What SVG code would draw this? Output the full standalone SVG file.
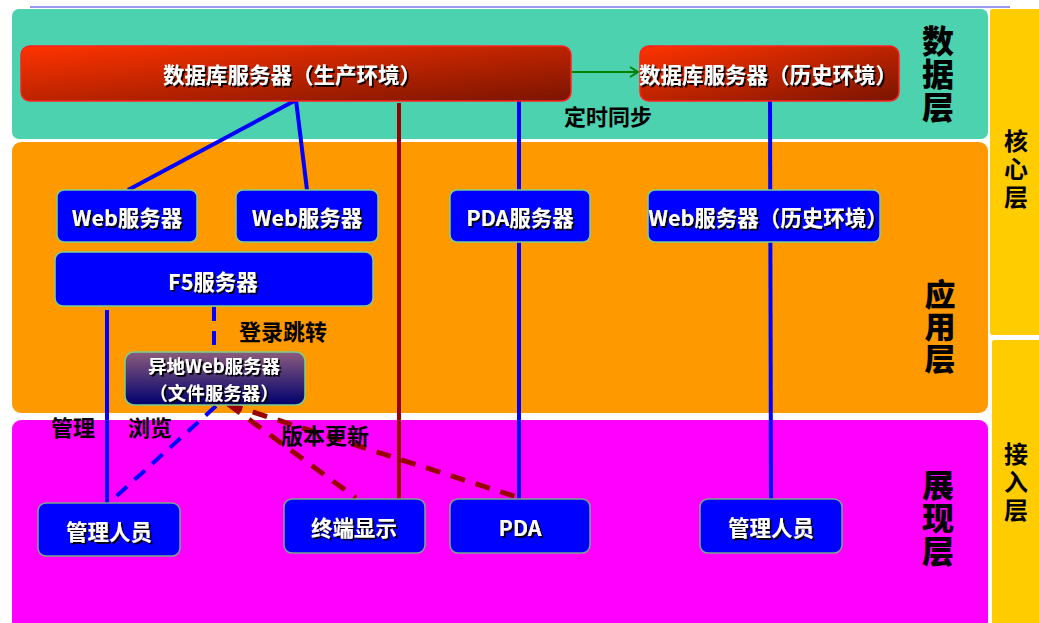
<svg xmlns="http://www.w3.org/2000/svg" width="1039" height="623" viewBox="0 0 1039 623">
<style>
.lbl{font-family:"Noto Sans CJK SC","Liberation Sans",sans-serif;font-weight:bold;fill:#fff;text-anchor:middle;dominant-baseline:central;filter:url(#sh);font-size:21.5px}
.cap{font-family:"Noto Sans CJK SC","Liberation Sans",sans-serif;font-weight:bold;fill:#000;text-anchor:middle;dominant-baseline:central;font-size:22px}
.layer{font-family:"Noto Sans CJK SC",sans-serif;font-weight:900;fill:#000;text-anchor:middle;writing-mode:tb}
.side{font-family:"Noto Sans CJK SC",sans-serif;font-weight:bold;fill:#000;text-anchor:middle;font-size:24px;writing-mode:tb;letter-spacing:4px}
.box{fill:#0000FF;stroke:#7ccf8c;stroke-width:1.5}
.boxb{fill:#0000FF;stroke:#7aa88a;stroke-width:1.5}
.db{fill:url(#gDb);stroke:#ff2020;stroke-width:1.5}
.blue{stroke:#0000FF;stroke-width:4;fill:none}
.red{stroke:#990000;stroke-width:4;fill:none}
.bdash{stroke:#0000FF;stroke-width:4;fill:none;stroke-dasharray:14 10}
.rdash{stroke:#990000;stroke-width:5;fill:none;stroke-dasharray:15 11}
</style>
<defs>
<linearGradient id="gDb" x1="0" y1="0" x2="1" y2="1">
<stop offset="0" stop-color="#ff3300"/>
<stop offset="1" stop-color="#7a1400"/>
</linearGradient>
<linearGradient id="gRemote" x1="0" y1="0" x2="0" y2="1">
<stop offset="0" stop-color="#8a5c7c"/>
<stop offset="1" stop-color="#00006e"/>
</linearGradient>
<filter id="sh" x="-10%" y="-30%" width="120%" height="160%">
<feDropShadow dx="1.8" dy="1.8" stdDeviation="0.4" flood-color="#000" flood-opacity="1"/>
</filter>
<marker id="arr" markerWidth="12" markerHeight="12" refX="10" refY="6" orient="auto" markerUnits="userSpaceOnUse">
<path d="M2,1 L10,6 L2,11" fill="none" stroke="#008000" stroke-width="2"/>
</marker>
</defs>

<g id="layers">
<line x1="30" y1="7" x2="1010" y2="7" stroke="#9a9af0" stroke-width="2"/>
<rect id="data-layer" x="12" y="9" width="976" height="130" rx="7" fill="#4dd2b0"/>
<rect id="app-layer" x="12" y="142" width="976" height="271" rx="9" fill="#ff9900"/>
<rect id="view-layer" x="12" y="420" width="976" height="210" rx="9" fill="#ff00ff"/>
<rect id="core-layer" x="990" y="9" width="52" height="326" rx="3" fill="#ffcc00"/>
<rect id="access-layer" x="992" y="340" width="50" height="290" rx="3" fill="#ffcc00"/>
<text class="layer" x="938" y="74" font-size="32" letter-spacing="1">数据层</text>
<text class="layer" x="940" y="327" font-size="31" letter-spacing="1">应用层</text>
<text class="layer" x="938" y="518" font-size="32" letter-spacing="1">展现层</text>
<text class="side" x="1016" y="171">核心层</text>
<text class="side" x="1016" y="484">接入层</text>
</g>

<g id="connectors">
<line class="blue" x1="296" y1="100" x2="128" y2="190"/>
<line class="blue" x1="296" y1="100" x2="307" y2="190"/>
<line class="red" x1="399" y1="103" x2="399" y2="499"/>
<line class="blue" x1="519" y1="101" x2="519" y2="499"/>
<line class="blue" x1="770" y1="101" x2="771" y2="499"/>
<line class="blue" x1="107" y1="310" x2="107" y2="503"/>
<line class="bdash" x1="214" y1="307" x2="214" y2="352"/>
<line class="bdash" x1="216" y1="406" x2="110" y2="502"/>
<line class="rdash" x1="228" y1="404" x2="356" y2="498"/>
<line class="rdash" x1="228" y1="404" x2="520" y2="498"/>
<line x1="572" y1="72" x2="638" y2="72" stroke="#008000" stroke-width="2" marker-end="url(#arr)"/>
<text class="cap" x="608" y="115">定时同步</text>
<text class="cap" x="283" y="330">登录跳转</text>
<text class="cap" x="73" y="426">管理</text>
<text class="cap" x="150" y="426">浏览</text>
<text class="cap" x="325" y="434">版本更新</text>
</g>

<g id="db-prod">
<rect class="db" x="21" y="46" width="550" height="55" rx="9"/>
<text class="lbl" x="292" y="73">数据库服务器（生产环境）</text>
</g>
<g id="db-hist">
<rect class="db" x="640" y="46" width="259" height="55" rx="9"/>
<text class="lbl" x="768" y="73">数据库服务器（历史环境）</text>
</g>
<g id="web1">
<rect class="box" x="57" y="190" width="140" height="52" rx="7"/>
<text class="lbl" x="127" y="216">Web服务器</text>
</g>
<g id="web2">
<rect class="box" x="236" y="190" width="142" height="52" rx="7"/>
<text class="lbl" x="307" y="216">Web服务器</text>
</g>
<g id="pda-server">
<rect class="box" x="450" y="190" width="140" height="52" rx="7"/>
<text class="lbl" x="520" y="216">PDA服务器</text>
</g>
<g id="web-hist">
<rect class="box" x="648" y="190" width="232" height="52" rx="7"/>
<text class="lbl" x="768" y="216">Web服务器（历史环境）</text>
</g>
<g id="f5">
<rect class="box" x="55" y="252" width="318" height="54" rx="8"/>
<text class="lbl" x="213" y="280">F5服务器</text>
</g>
<g id="remote-web">
<rect x="125" y="352" width="180" height="53" rx="9" fill="url(#gRemote)" stroke="#7ccf8c" stroke-width="1.5"/>
<text class="lbl" style="font-size:18.5px"><tspan x="214" y="365">异地Web服务器</tspan><tspan x="214" y="392">（文件服务器）</tspan></text>
</g>
<g id="admin1">
<rect class="boxb" x="38" y="503" width="142" height="53" rx="8"/>
<text class="lbl" x="109" y="530">管理人员</text>
</g>
<g id="terminal">
<rect class="boxb" x="284" y="499" width="141" height="54" rx="8"/>
<text class="lbl" x="354" y="526">终端显示</text>
</g>
<g id="pda">
<rect class="boxb" x="450" y="499" width="140" height="54" rx="8"/>
<text class="lbl" x="520" y="526">PDA</text>
</g>
<g id="admin2">
<rect class="boxb" x="700" y="499" width="142" height="54" rx="8"/>
<text class="lbl" x="771" y="526">管理人员</text>
</g>
</svg>
